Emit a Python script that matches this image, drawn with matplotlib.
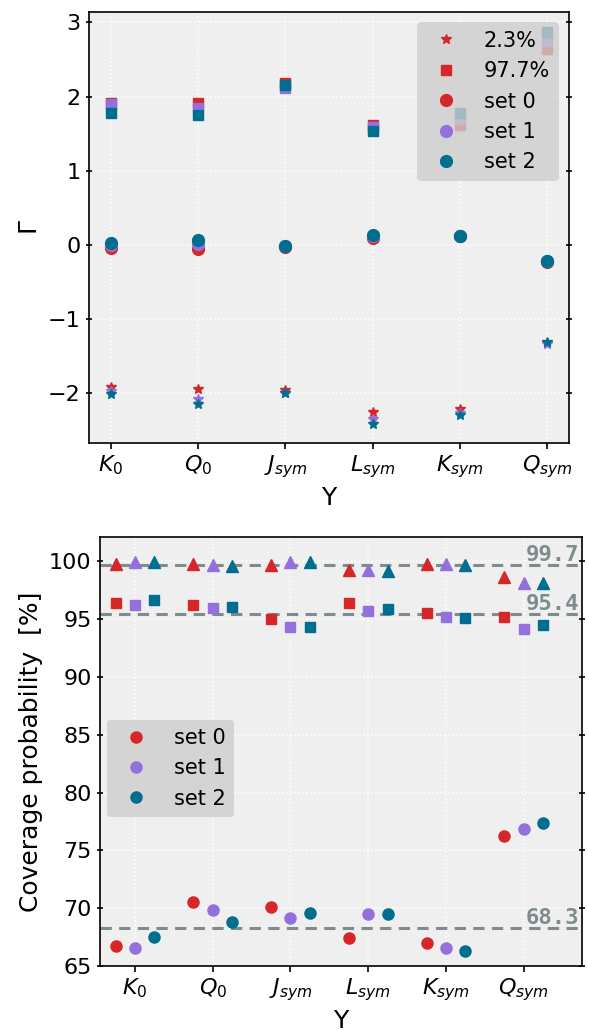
import numpy as np
import matplotlib
matplotlib.use("Agg")
import matplotlib.pyplot as plt

# parameter names on the x axis
labels = [r"$K_0$", r"$Q_0$", r"$J_{sym}$", r"$L_{sym}$", r"$K_{sym}$", r"$Q_{sym}$"]
set_names = ["set 0", "set 1", "set 2"]
colors = ["#d62728", "#9370db", "#006e8e"]

# top panel: Gamma quantiles (2.3%, median, 97.7%)
low_set0 = [-1.91, -1.94, -1.96, -2.25, -2.21, -1.32]
low_set1 = [-1.97, -2.08, -1.99, -2.34, -2.26, -1.34]
low_set2 = [-2.01, -2.15, -2.00, -2.42, -2.29, -1.31]
high_set0 = [1.91, 1.91, 2.18, 1.62, 1.61, 2.64]
high_set1 = [1.90, 1.85, 2.12, 1.59, 1.70, 2.75]
high_set2 = [1.78, 1.75, 2.15, 1.54, 1.78, 2.87]
mid_set0 = [-0.045, -0.05, -0.03, 0.10, 0.12, -0.225]
mid_set1 = [0.0, 0.01, -0.02, 0.12, 0.12, -0.22]
mid_set2 = [0.02, 0.06, -0.01, 0.14, 0.12, -0.22]

# bottom panel: coverage probability [%]
cov997_set0 = [99.78, 99.78, 99.72, 99.26, 99.78, 98.62]
cov997_set1 = [99.96, 99.66, 99.93, 99.23, 99.78, 98.10]
cov997_set2 = [99.96, 99.63, 99.96, 99.14, 99.72, 98.13]
cov954_set0 = [96.42, 96.24, 95.05, 96.42, 95.52, 95.14]
cov954_set1 = [96.18, 95.92, 94.36, 95.72, 95.14, 94.16]
cov954_set2 = [96.62, 96.01, 94.36, 95.87, 95.11, 94.50]
cov683_set0 = [66.74, 70.50, 70.10, 67.43, 66.97, 76.22]
cov683_set1 = [66.53, 69.81, 69.17, 69.52, 66.59, 76.88]
cov683_set2 = [67.52, 68.83, 69.61, 69.52, 66.30, 77.35]
levels = [99.7, 95.4, 68.3]

lows = [low_set0, low_set1, low_set2]
highs = [high_set0, high_set1, high_set2]
mids = [mid_set0, mid_set1, mid_set2]
cov997 = [cov997_set0, cov997_set1, cov997_set2]
cov954 = [cov954_set0, cov954_set1, cov954_set2]
cov683 = [cov683_set0, cov683_set1, cov683_set2]

x = np.arange(len(labels))
line_col = "#7f8c8d"


def style_axes(ax):
    ax.set_facecolor("#efefef")
    ax.grid(True, color="white", linestyle=":", linewidth=1.1)
    ax.set_axisbelow(True)
    for sp in ax.spines.values():
        sp.set_color("black")
        sp.set_linewidth(1.2)
    ax.tick_params(axis="both", labelsize=16, length=4, width=1.2)
    ax.tick_params(axis="y", right=True, direction="inout", length=5)
    ax.set_xticks(x)
    ax.set_xticklabels(labels)


fig = plt.figure(figsize=(5.89, 10.30), dpi=100)

# top panel
ax1 = fig.add_axes([89 / 589, 1 - 443 / 1030, 480 / 589, 431 / 1030])
style_axes(ax1)
for k in range(3):
    ax1.plot(x, lows[k], "*", color=colors[k], ms=7.5,
             label="2.3%" if k == 0 else None)
    ax1.plot(x, highs[k], "s", color=colors[k], ms=7.5,
             label="97.7%" if k == 0 else None)
    ax1.plot(x, mids[k], "o", color=colors[k], ms=8.5, label=set_names[k])
ax1.set_xlim(-0.25, 5.25)
ax1.set_ylim(-2.67, 3.14)
ax1.set_yticks([-2, -1, 0, 1, 2, 3])
ax1.set_xlabel("Y", fontsize=18)
ax1.set_ylabel(r"$\Gamma$", fontsize=18)
ax1.legend(loc="upper right", fontsize=15, facecolor="#cecece",
           edgecolor="none", framealpha=0.8)

# bottom panel
ax2 = fig.add_axes([100 / 589, 1 - 966 / 1030, 482 / 589, 429 / 1030])
style_axes(ax2)
for lv in levels:
    ax2.axhline(lv, color=line_col, linestyle=(0, (3.7, 2.4)), linewidth=2.2,
                zorder=1)
    ax2.text(5.71, lv, f"{lv}", ha="right", va="bottom", family="monospace",
             weight="bold", color=line_col, fontsize=16)
for k in range(3):
    xs = x + (k - 1) * 0.25
    ax2.plot(xs, cov997[k], "^", color=colors[k], ms=8.5, zorder=3)
    ax2.plot(xs, cov954[k], "s", color=colors[k], ms=7.5, zorder=3)
    ax2.plot(xs, cov683[k], "o", color=colors[k], ms=8, zorder=3,
             label=set_names[k])
ax2.set_xlim(-0.45, 5.75)
ax2.set_ylim(65, 102.1)
ax2.set_yticks([65, 70, 75, 80, 85, 90, 95, 100])
ax2.set_xlabel("Y", fontsize=18)
ax2.set_ylabel("Coverage probability  [%]", fontsize=18)
ax2.legend(loc="lower left", bbox_to_anchor=(-0.007, 0.323), fontsize=15,
           facecolor="#cecece", edgecolor="none", framealpha=0.8)

fig.savefig("out.png", dpi=100)
